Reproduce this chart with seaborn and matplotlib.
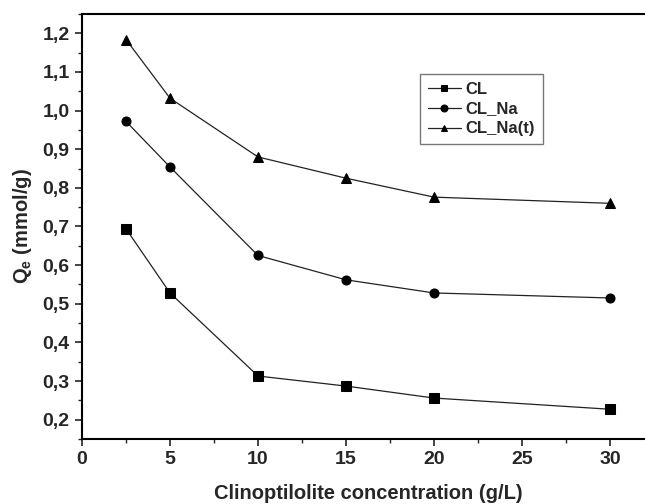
import pandas as pd
import matplotlib
matplotlib.use('Agg')
import matplotlib.pyplot as plt
import seaborn as sns
from matplotlib.ticker import MultipleLocator, FuncFormatter

# Data
concentration = [2.5, 5, 10, 15, 20, 30]
qe_cl = [0.694, 0.528, 0.313, 0.287, 0.256, 0.227]
qe_cl_na = [0.972, 0.854, 0.625, 0.562, 0.528, 0.515]
qe_cl_na_t = [1.184, 1.032, 0.880, 0.825, 0.776, 0.760]
series_names = ['CL', 'CL_Na', 'CL_Na(t)']

df = pd.DataFrame({
    'conc': concentration * 3,
    'qe': qe_cl + qe_cl_na + qe_cl_na_t,
    'series': [s for s in series_names for _ in concentration],
})

sns.set_style('ticks')
plt.rcParams['font.family'] = ['Liberation Sans', 'DejaVu Sans']
plt.rcParams['font.weight'] = 'bold'

fig = plt.figure(figsize=(6.45, 5.04), dpi=100)
# axes extends past the right edge like the cropped original
ax = fig.add_axes([82 / 645, 65 / 504, 572 / 645, 425 / 504])

sns.lineplot(data=df, x='conc', y='qe', hue='series', style='series',
             palette=['black'] * 3, markers=['s', 'o', '^'], dashes=False,
             markersize=6.5, linewidth=0.9, markeredgecolor='black', ax=ax)
for ln in ax.lines:
    ln.set_color('#222222')
    ln.set_markerfacecolor('black')
    ln.set_markeredgecolor('black')

ax.set_xlim(0, 32.5)
ax.set_ylim(0.15, 1.25)
ax.xaxis.set_major_locator(MultipleLocator(5))
ax.xaxis.set_minor_locator(MultipleLocator(2.5))
ax.yaxis.set_major_locator(MultipleLocator(0.1))
ax.yaxis.set_minor_locator(MultipleLocator(0.05))
ax.yaxis.set_major_formatter(FuncFormatter(lambda v, p: f'{v:.1f}'.replace('.', ',')))
ax.tick_params(which='major', direction='out', length=5, width=1.2, labelsize=14, pad=4)
ax.tick_params(which='minor', direction='out', length=3, width=1.0)
for lab in ax.get_xticklabels() + ax.get_yticklabels():
    lab.set_fontweight('bold')
for sp in ax.spines.values():
    sp.set_linewidth(1.5)
    sp.set_color('black')

ax.set_xlabel('Clinoptilolite concentration (g/L)', fontsize=14.5, fontweight='bold', labelpad=11)
ax.set_ylabel(r'Q$_\mathregular{e}$ (mmol/g)', fontsize=14.5, fontweight='bold', labelpad=6)

handles, labels = ax.get_legend_handles_labels()
leg = ax.legend(handles, labels, loc='upper left', bbox_to_anchor=(420 / 645, 1 - 74 / 504),
                bbox_transform=fig.transFigure, frameon=True, fancybox=False,
                handlelength=2.0, handletextpad=0.3, borderpad=0.45, borderaxespad=0,
                labelspacing=0.3, prop={'weight': 'bold', 'size': 12})
leg.get_frame().set_edgecolor('#555555')
leg.get_frame().set_linewidth(1.0)
for h in leg.legend_handles:
    h.set_markersize(5)

fig.savefig('out.png', dpi=100)
